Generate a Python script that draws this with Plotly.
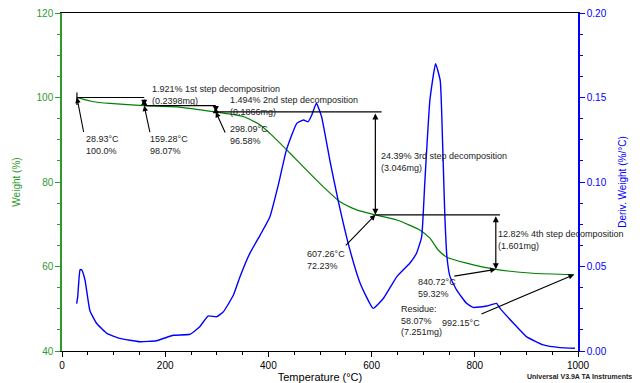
import plotly.graph_objects as go

# ---- data ----
weight_T = [28.93, 61, 93, 159.28, 222, 298.09, 351, 384, 403, 442, 474, 506, 539, 571,
            607.26, 649, 694, 713, 729, 746, 784, 840.72, 913, 992.15]
weight_W = [100.0, 99.0, 98.6, 98.07, 97.8, 96.58, 95.5, 93.5, 91.5, 86.8, 82.8, 78.9, 75.3, 73.4,
            72.23, 71.0, 68.6, 66.7, 63.9, 62.2, 60.8, 59.32, 58.4, 58.07]

deriv_T = [28.4, 30.4, 35, 38, 44.6, 54, 67, 87, 112, 151, 183, 216, 248, 267, 283, 300, 313,
           332, 345, 364, 384, 403, 419, 435, 455, 468, 477, 484, 493, 503, 519, 535, 558, 578,
           603, 623, 649, 674, 687, 697, 703, 713, 724, 733, 738, 742, 746, 752, 765, 784, 797,
           823, 842, 849, 875, 900, 933, 965, 994]
deriv_V = [0.028, 0.032, 0.048, 0.048, 0.042, 0.024, 0.0164, 0.0104, 0.0075, 0.0055, 0.0061,
           0.0093, 0.0099, 0.0144, 0.0207, 0.0203, 0.0233, 0.033, 0.044, 0.0578, 0.0686, 0.0795,
           0.098, 0.119, 0.1347, 0.1367, 0.1357, 0.1396, 0.1466, 0.1387, 0.113, 0.0893, 0.0598,
           0.040, 0.0252, 0.0312, 0.044, 0.0519, 0.0578, 0.0676, 0.099, 0.1485, 0.170, 0.160,
           0.119, 0.0795, 0.0558, 0.044, 0.036, 0.0282, 0.0258, 0.0266, 0.0282, 0.0252, 0.0164,
           0.0085, 0.0036, 0.002, 0.0016]

step_T = [28.93, 159.28, 298.09, 607.26, 840.72]
step_W = [100.0, 98.07, 96.58, 72.23, 59.32]
step_labels = ["1.921% 1st step decompositrion<br>(0.2398mg)",
               "1.494% 2nd step decomposition<br>(0.1866mg)",
               "24.39% 3rd step decomposition<br>(3.046mg)",
               "12.82% 4th step decomposition<br>(1.601mg)"]
residue_T = 992.15
residue_W = 58.07
residue_label = "Residue:<br>58.07%<br>(7.251mg)"

GREEN = "#008000"
AXGREEN = "#2e9a2e"
BLUE = "#0000ff"
FONT = "Liberation Sans, Arial, sans-serif"

OFF = 8  # page body margin
W, H = 640 - OFF, 383 - OFF
L, T = 62 - OFF, 13 - OFF
PW, PH = 516, 338
R, B = W - L - PW, H - T - PH


def px(x):  # page pixel -> paper
    return (x - OFF - L) / PW


def py(y):
    return (T + PH - (y - OFF)) / PH


fig = go.Figure()
fig.add_trace(go.Scatter(x=weight_T, y=weight_W, mode="lines",
                         line=dict(color=GREEN, width=1.2, shape="spline", smoothing=0.6),
                         yaxis="y", showlegend=False))
fig.add_trace(go.Scatter(x=deriv_T, y=deriv_V, mode="lines",
                         line=dict(color=BLUE, width=1.4, shape="spline", smoothing=0.4),
                         yaxis="y2", showlegend=False))

shapes = []
annotations = []
ext = [0, 0, 12, 8]
for i in range(4):
    shapes.append(dict(type="line", xref="x", yref="y", x0=step_T[i], x1=step_T[i + 1] + ext[i],
                       y0=step_W[i], y1=step_W[i], line=dict(color="black", width=1.2)))
    annotations.append(dict(x=step_T[i + 1], y=step_W[i + 1], ax=step_T[i + 1], ay=step_W[i],
                            xref="x", yref="y", axref="x", ayref="y", text="", showarrow=True,
                            arrowhead=2, arrowside="end+start", arrowsize=1, arrowwidth=1.2,
                            arrowcolor="black", standoff=0, startstandoff=0))
# small vertical marker at start
shapes.append(dict(type="line", xref="x", yref="y", x0=step_T[0], x1=step_T[0],
                   y0=step_W[0] - 1.8, y1=step_W[0] + 1.2, line=dict(color="black", width=1.2)))

# leader arrows (point <- label)
lead_pts = list(zip(step_T, step_W)) + [(residue_T, residue_W)]
lead_off = [(7, 36), (6, 28), (10, 22), (-31, 32), (-43, 7), (-94, 40)]
for (xv, yv), (dx, dy) in zip(lead_pts, lead_off):
    annotations.append(dict(x=xv, y=yv, xref="x", yref="y", ax=dx, ay=dy, text="",
                            showarrow=True, arrowhead=2, arrowsize=1, arrowwidth=1.1,
                            arrowcolor="black", standoff=0))

# point labels
pt_labels = [f"{t:.2f}°C<br>{w:.2f}%".replace("100.00%", "100.0%") for t, w in zip(step_T, step_W)]
pt_pos = [(84, 132), (148, 132), (228, 122), (305, 247), (416, 275)]
for txt, (x0, y0) in zip(pt_labels, pt_pos):
    annotations.append(dict(x=px(x0), y=py(y0), xref="paper", yref="paper", text=txt,
                            showarrow=False, xanchor="left", yanchor="top", align="left",
                            font=dict(family=FONT, size=9, color="#222")))
step_pos = [(150, 82), (228, 93), (379, 149), (496, 227)]
for txt, (x0, y0) in zip(step_labels, step_pos):
    annotations.append(dict(x=px(x0), y=py(y0), xref="paper", yref="paper", text=txt,
                            showarrow=False, xanchor="left", yanchor="top", align="left",
                            font=dict(family=FONT, size=9, color="#222")))
annotations.append(dict(x=px(399), y=py(302), xref="paper", yref="paper", text=residue_label,
                        showarrow=False, xanchor="left", yanchor="top", align="left",
                        font=dict(family=FONT, size=9, color="#222")))
annotations.append(dict(x=px(440), y=py(316), xref="paper", yref="paper",
                        text=f"{residue_T:.2f}°C", showarrow=False, xanchor="left",
                        yanchor="top", align="left", font=dict(family=FONT, size=9, color="#222")))
annotations.append(dict(x=px(634), y=py(376), xref="paper", yref="paper",
                        text="<b>Universal V3.9A TA Instruments</b>", showarrow=False,
                        xanchor="right", yanchor="middle",
                        font=dict(family=FONT, size=7, color="#222")))

fig.update_layout(
    width=W, height=H, margin=dict(l=L, r=R, t=T, b=B, autoexpand=False),
    paper_bgcolor="white", plot_bgcolor="white",
    font=dict(family=FONT, size=10, color="black"),
    xaxis=dict(range=[0, 1000], dtick=200, ticks="outside", ticklen=5, tickwidth=1,
               tickcolor="black", showline=True, linecolor="black", linewidth=1.2, mirror=True,
               showgrid=False, zeroline=False, tickfont=dict(size=10, color="black"),
               ticklabeloverflow="allow",
               minor=dict(dtick=50, ticks="outside", ticklen=3, tickcolor="black"),
               title=dict(text="Temperature (°C)", font=dict(size=11, color="black"), standoff=4)),
    yaxis=dict(range=[40, 120], dtick=20, ticks="outside", ticklen=5, tickcolor=AXGREEN,
               showline=True, linecolor=AXGREEN, linewidth=1.5, showgrid=False, zeroline=False,
               tickfont=dict(size=10, color=AXGREEN), ticklabeloverflow="allow",
               minor=dict(dtick=5, ticks="outside", ticklen=3, tickcolor=AXGREEN),
               title=dict(text="Weight (%)", font=dict(size=10, color=AXGREEN), standoff=14)),
    yaxis2=dict(range=[0, 0.2], dtick=0.05, tickformat=".2f", overlaying="y", side="right",
                ticks="outside", ticklen=5, tickcolor=BLUE, showline=True, linecolor=BLUE,
                linewidth=1.5, showgrid=False, zeroline=False, ticklabeloverflow="allow",
                tickfont=dict(size=10, color=BLUE),
                minor=dict(dtick=0.0125, ticks="outside", ticklen=3, tickcolor=BLUE),
                title=dict(text="Deriv. Weight (%/°C)", font=dict(size=10, color=BLUE), standoff=13)),
    shapes=shapes, annotations=annotations,
)

fig.write_html("out.html")
